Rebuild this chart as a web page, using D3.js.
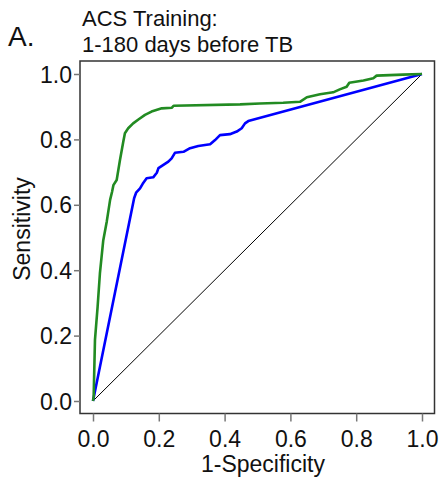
<!DOCTYPE html>
<html><head><meta charset="utf-8">
<script src="https://cdn.jsdelivr.net/npm/d3@7"></script>
<style>body{margin:0;background:#fff}svg{display:block}text{font-family:"Liberation Sans",Arial,sans-serif;fill:#111}</style>
</head><body>
<script>
// Green curve (1-Specificity, Sensitivity)
const greenFpr = [0,0.002,0.006,0.014,0.021,0.031,0.042,0.052,0.058,0.062,0.072,0.082,0.092,0.097,0.107,0.122,0.138,0.158,0.178,0.209,0.24,0.245,0.447,0.507,0.578,0.629,0.65,0.69,0.73,0.75,0.771,0.779,0.822,0.852,0.862,0.942,1];
const greenTpr = [0,0.013,0.187,0.288,0.39,0.49,0.55,0.615,0.64,0.66,0.676,0.737,0.793,0.819,0.834,0.849,0.861,0.875,0.885,0.895,0.897,0.903,0.907,0.91,0.912,0.915,0.929,0.938,0.944,0.953,0.961,0.973,0.98,0.987,0.995,0.998,1];
// Blue curve
const blueFpr = [0,0.125,0.131,0.143,0.151,0.163,0.183,0.194,0.199,0.214,0.229,0.239,0.249,0.275,0.295,0.32,0.356,0.371,0.386,0.416,0.437,0.452,0.462,0.472,1];
const blueTpr = [0,0.62,0.637,0.65,0.664,0.681,0.684,0.698,0.712,0.722,0.732,0.742,0.759,0.762,0.773,0.78,0.785,0.798,0.813,0.816,0.824,0.834,0.849,0.856,1];
const ticks = [0,0.2,0.4,0.6,0.8,1.0];

const W=442,H=477;
const svg=d3.select("body").append("svg").attr("width",W).attr("height",H);
const x=d3.scaleLinear().domain([0,1]).range([93,422]);
const y=d3.scaleLinear().domain([0,1]).range([401,74]);
const fL=80,fR=434.5,fT=61,fB=413.5;

// frame
svg.append("rect").attr("x",fL).attr("y",fT).attr("width",fR-fL).attr("height",fB-fT)
  .attr("fill","none").attr("stroke","#333").attr("stroke-width",1.5);

// axes
const xAxis=svg.append("g").attr("transform",`translate(0,${fB})`)
  .call(d3.axisBottom(x).tickValues(ticks).tickFormat(d3.format(".1f")).tickSize(8).tickPadding(8));
const yAxis=svg.append("g").attr("transform",`translate(${fL},0)`)
  .call(d3.axisLeft(y).tickValues(ticks).tickFormat(d3.format(".1f")).tickSize(6).tickPadding(2));
[xAxis,yAxis].forEach(g=>{
  g.select(".domain").remove();
  g.selectAll(".tick line").attr("stroke","#777").attr("stroke-width",1.5);
  g.selectAll(".tick text").attr("font-size",23).attr("fill","#111").style("font-family","Liberation Sans, Arial, sans-serif");
});
xAxis.selectAll(".tick text").attr("y",0).attr("dy",null).attr("transform","translate(0,33.5)");
yAxis.selectAll(".tick text").attr("dy","0.35em");

// diagonal
svg.append("line").attr("x1",x(0)).attr("y1",y(0)).attr("x2",x(1)).attr("y2",y(1))
  .attr("stroke","#000").attr("stroke-width",1);

const line=d3.line().x(d=>x(d[0])).y(d=>y(d[1]));
svg.append("path").datum(blueFpr.map((v,i)=>[v,blueTpr[i]])).attr("d",line)
  .attr("fill","none").attr("stroke","#0000ff").attr("stroke-width",2.6).attr("stroke-linejoin","round");
svg.append("path").datum(greenFpr.map((v,i)=>[v,greenTpr[i]])).attr("d",line)
  .attr("fill","none").attr("stroke","#228b22").attr("stroke-width",2.6).attr("stroke-linejoin","round");

// labels
svg.append("text").attr("x",263).attr("y",472).attr("text-anchor","middle").attr("font-size",23).text("1-Specificity");
svg.append("text").attr("transform","translate(30,229) rotate(-90)").attr("text-anchor","middle").attr("font-size",23).text("Sensitivity");
svg.append("text").attr("x",82).attr("y",26).attr("font-size",22).text("ACS Training:");
svg.append("text").attr("x",82).attr("y",52).attr("font-size",22).text("1-180 days before TB");
svg.append("text").attr("x",8).attr("y",46).attr("font-size",28).text("A.");
</script>
</body></html>
